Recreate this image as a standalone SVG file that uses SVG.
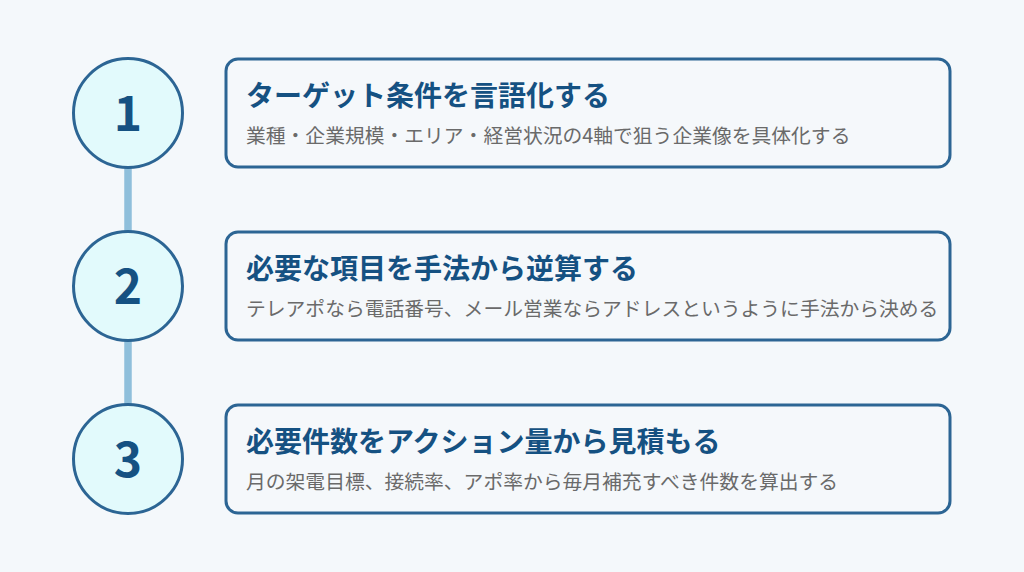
<svg xmlns="http://www.w3.org/2000/svg" width="1024" height="572" viewBox="0 0 1024 572">
<style>
.bg{fill:#f4f8fb}
.circ{fill:#e2fafc;stroke:#2c6594;stroke-width:3}
.box{fill:#f5f8fb;stroke:#2c6594;stroke-width:3}
.num{font-family:"Noto Sans CJK JP",sans-serif;font-weight:700;font-size:48px;fill:#155182;text-anchor:middle}
.title{font-family:"Noto Sans CJK JP",sans-serif;font-weight:700;font-size:28px;fill:#155182}
.sub{font-family:"Noto Sans CJK JP",sans-serif;font-size:19.8px;fill:#6a6a6a}
.conn{stroke:#8fbfdb;stroke-width:7.5;fill:none}
</style>
<rect class="bg" x="0" y="0" width="1024" height="572"/>
<g id="connectors">
<line class="conn" x1="128" y1="168" x2="128" y2="231"/>
<line class="conn" x1="128" y1="341" x2="128" y2="404"/>
</g>
<g id="step1">
<circle class="circ" cx="128" cy="113" r="54.5"/>
<text class="num" x="128" y="131">1</text>
<rect class="box" x="226" y="59" width="724" height="108" rx="12"/>
<text class="title" x="246" y="106">ターゲット条件を言語化する</text>
<text class="sub" x="246" y="143">業種・企業規模・エリア・経営状況の4軸で狙う企業像を具体化する</text>
</g>
<g id="step2">
<circle class="circ" cx="128" cy="286" r="54.5"/>
<text class="num" x="128" y="304">2</text>
<rect class="box" x="226" y="232" width="724" height="108" rx="12"/>
<text class="title" x="246" y="279">必要な項目を手法から逆算する</text>
<text class="sub" x="246" y="316">テレアポなら電話番号、メール営業ならアドレスというように手法から決める</text>
</g>
<g id="step3">
<circle class="circ" cx="128" cy="459" r="54.5"/>
<text class="num" x="128" y="477">3</text>
<rect class="box" x="226" y="405" width="724" height="108" rx="12"/>
<text class="title" x="246" y="452">必要件数をアクション量から見積もる</text>
<text class="sub" x="246" y="489">月の架電目標、接続率、アポ率から毎月補充すべき件数を算出する</text>
</g>
</svg>
